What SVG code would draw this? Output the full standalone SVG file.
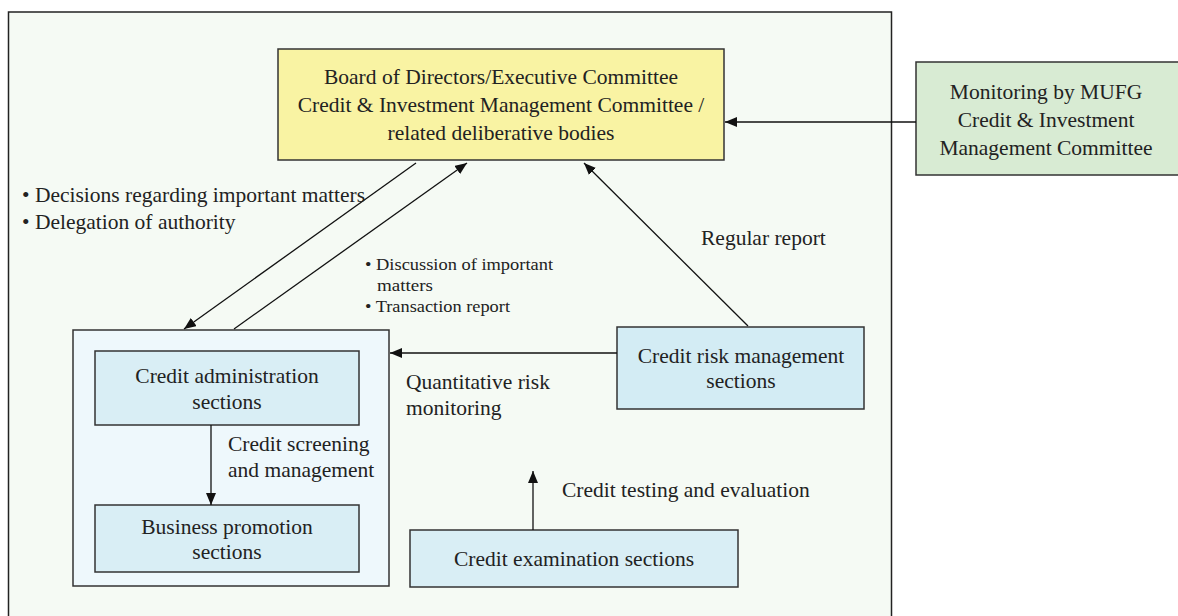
<svg xmlns="http://www.w3.org/2000/svg" width="1178" height="616" viewBox="0 0 1178 616">
<style>
text{font-family:"Liberation Serif","Times New Roman",serif;fill:#222;}
.t{font-size:21.5px;}
.s{font-size:17px;}
.box{stroke:#333;stroke-width:1.5;}
.ln{stroke:#111;stroke-width:1.3;fill:none;}
</style>
<defs>
<marker id="ah" viewBox="0 0 12 10" refX="12" refY="5" markerWidth="12" markerHeight="10" markerUnits="userSpaceOnUse" orient="auto">
<path d="M0,0 L12,5 L0,10 Z" fill="#111"/>
</marker>
</defs>
<rect width="1178" height="616" fill="#ffffff"/>
<g id="frame"><rect x="8.5" y="12" width="883" height="610" fill="#f5faf4" stroke="#222" stroke-width="1.5"/></g>
<g id="board"><rect class="box" x="278" y="49" width="446" height="111" fill="#f9f3a3"/>
<text class="t" text-anchor="middle" x="501" y="84">Board of Directors/Executive Committee</text>
<text class="t" text-anchor="middle" x="501" y="112">Credit &amp; Investment Management Committee /</text>
<text class="t" text-anchor="middle" x="501" y="140">related deliberative bodies</text></g>
<g id="mufg"><rect class="box" x="916" y="62" width="264" height="113" fill="#d8ebd3"/>
<text class="t" text-anchor="middle" x="1046" y="99">Monitoring by MUFG</text>
<text class="t" text-anchor="middle" x="1046" y="127">Credit &amp; Investment</text>
<text class="t" text-anchor="middle" x="1046" y="155">Management Committee</text></g>
<g id="frontline"><rect class="box" x="73" y="330" width="316" height="256" fill="#eef8fc"/></g>
<g id="admin"><rect class="box" x="95" y="351" width="264" height="74" fill="#d9eef5"/>
<text class="t" text-anchor="middle" x="227" y="383">Credit administration</text>
<text class="t" text-anchor="middle" x="227" y="409">sections</text></g>
<g id="business"><rect class="box" x="95" y="505" width="264" height="67" fill="#d9eef5"/>
<text class="t" text-anchor="middle" x="227" y="534">Business promotion</text>
<text class="t" text-anchor="middle" x="227" y="559">sections</text></g>
<g id="riskmgmt"><rect class="box" x="617" y="327" width="247" height="82" fill="#d3ecf4"/>
<text class="t" text-anchor="middle" x="741" y="363">Credit risk management</text>
<text class="t" text-anchor="middle" x="741" y="388">sections</text></g>
<g id="exam"><rect class="box" x="410" y="530" width="328" height="57" fill="#d9eef5"/>
<text class="t" text-anchor="middle" x="574" y="566">Credit examination sections</text></g>
<g id="connectors">
<line class="ln" x1="916" y1="122" x2="725" y2="122" marker-end="url(#ah)"/>
<line class="ln" x1="416" y1="163" x2="184" y2="329" marker-end="url(#ah)"/>
<line class="ln" x1="234" y1="329" x2="467" y2="163" marker-end="url(#ah)"/>
<line class="ln" x1="748" y1="326" x2="584" y2="163" marker-end="url(#ah)"/>
<line class="ln" x1="617" y1="353" x2="390" y2="353" marker-end="url(#ah)"/>
<line class="ln" x1="211" y1="425" x2="211" y2="505" marker-end="url(#ah)"/>
<line class="ln" x1="533" y1="530" x2="533" y2="471" marker-end="url(#ah)"/>
</g>
<g id="labels">
<text class="t" x="22" y="202">• Decisions regarding important matters</text>
<text class="t" x="22" y="229">• Delegation of authority</text>
<text class="s" x="365" y="270" textLength="188" lengthAdjust="spacingAndGlyphs">• Discussion of important</text>
<text class="s" x="377" y="291" textLength="56" lengthAdjust="spacingAndGlyphs">matters</text>
<text class="s" x="365" y="312" textLength="145" lengthAdjust="spacingAndGlyphs">• Transaction report</text>
<text class="t" x="701" y="245">Regular report</text>
<text class="t" x="406" y="389">Quantitative risk</text>
<text class="t" x="406" y="415">monitoring</text>
<text class="t" x="228" y="451">Credit screening</text>
<text class="t" x="228" y="477">and management</text>
<text class="t" x="562" y="497">Credit testing and evaluation</text>
</g>
</svg>
